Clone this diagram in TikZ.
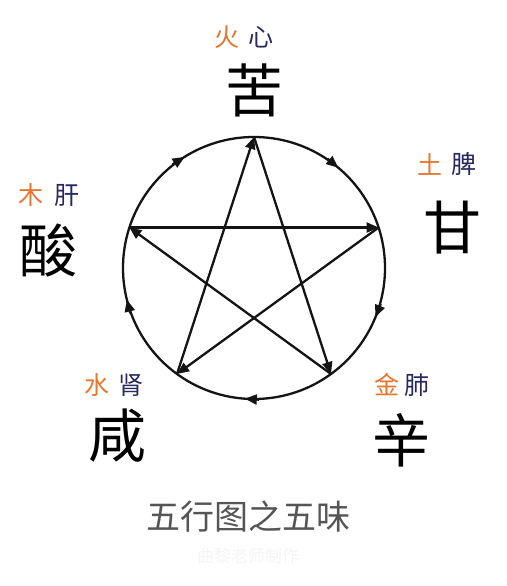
\documentclass[tikz,border=0pt]{standalone}
\usepackage{fontspec}
\newfontfamily\cjk{Noto Sans CJK SC}
\usetikzlibrary{arrows.meta}
\definecolor{elem}{RGB}{228,118,45}
\definecolor{organ}{RGB}{40,40,95}
\definecolor{capt}{RGB}{85,85,85}
\begin{document}
\begin{tikzpicture}[x=1pt,y=1pt,
  tip/.style={-{Triangle[length=12pt,width=10pt]}},
  ln/.style={line width=2.3pt,black!92},
  elemtxt/.style={text=elem,font=\cjk\fontsize{25}{25}\selectfont,inner sep=0pt},
  organtxt/.style={text=organ,font=\cjk\fontsize{25}{25}\selectfont,inner sep=0pt},
  tastetxt/.style={text=black,font=\cjk\fontsize{58}{58}\selectfont,inner sep=0pt}
]
\fill[white] (0,0) rectangle (506,586);
\useasboundingbox (0,0) rectangle (506,586);
\coordinate (c) at (254,318);
\path (c) ++(90:131) coordinate (T);
\path (c) ++(162:131) coordinate (L);
\path (c) ++(18:131) coordinate (R);
\path (c) ++(234:131) coordinate (BL);
\path (c) ++(306:131) coordinate (BR);
% circle (generating cycle, clockwise)
\draw[ln] (c) circle[radius=131];
\foreach \m [count=\i] in {50,-22,-94,-166,-238}{
  \path (c) ++(\m:131) coordinate (tp\i);
  \path (tp\i) ++(\m+90:14) coordinate (tq\i);
  \draw[ln,tip] (tq\i) -- (tp\i);
}
% star (controlling cycle)
\draw[ln,tip] (L) -- (R);
\draw[ln,tip] (R) -- (BL);
\draw[ln,tip] (BL) -- (T);
\draw[ln,tip] (T) -- (BR);
\draw[ln,tip] (BR) -- (L);
% labels
\node[elemtxt] (huo) at (227,549) {火};
\node[organtxt] (xin) at (261,549) {心};
\node[tastetxt] (ku) at (254,496) {苦};
\node[elemtxt] (tu) at (430,422) {土};
\node[organtxt] (pi) at (464,422) {脾};
\node[tastetxt] (gan) at (452,358) {甘};
\node[elemtxt] (mu) at (31,391) {木};
\node[organtxt] (gan2) at (67,391) {肝};
\node[tastetxt] (suan) at (48,335) {酸};
\node[elemtxt] (shui) at (97,201) {水};
\node[organtxt] (shen) at (131,201) {肾};
\node[tastetxt] (xian) at (117,150) {咸};
\node[elemtxt] (jin) at (387,201) {金};
\node[organtxt] (fei) at (417,201) {肺};
\node[tastetxt] (xinw) at (401,146) {辛};
\node[text=capt,font=\cjk\fontsize{34}{34}\selectfont,inner sep=0pt] (cap) at (248,69) {五行图之五味};
\node[text=black!4,font=\cjk\fontsize{17}{17}\selectfont,inner sep=0pt] (wm) at (248,30) {曲黎老师制作};
\end{tikzpicture}
\end{document}
